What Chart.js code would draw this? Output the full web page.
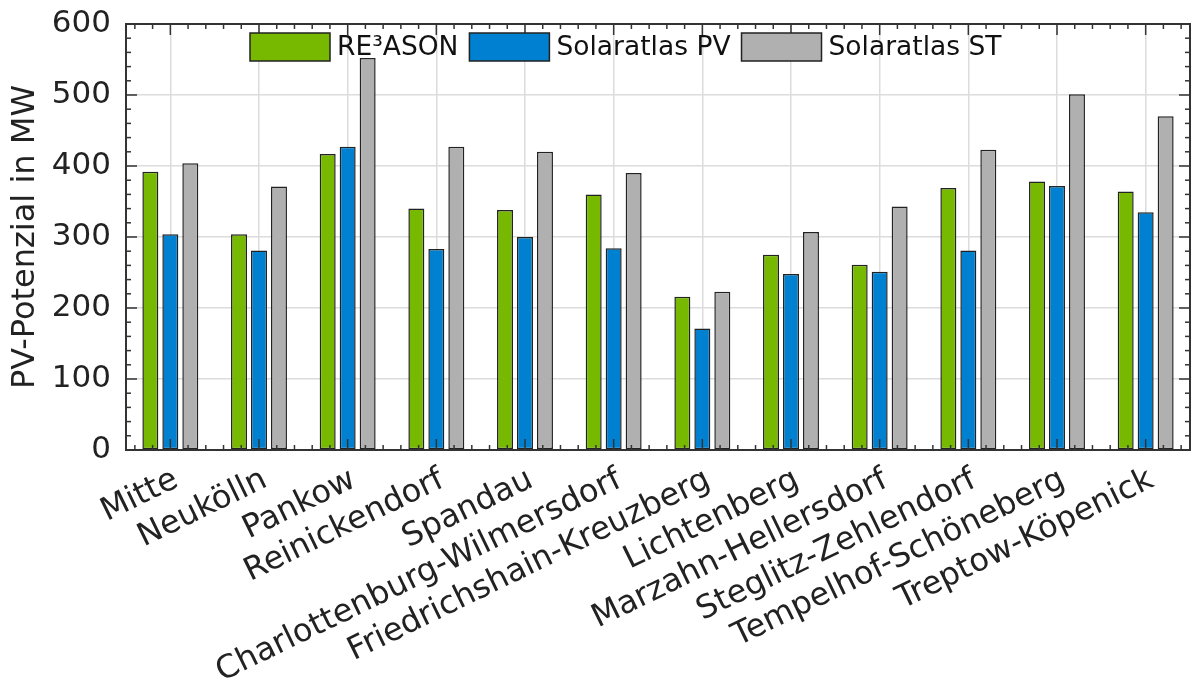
<!DOCTYPE html>
<html>
<head>
<meta charset="utf-8">
<script src="https://cdn.jsdelivr.net/npm/chart.js@4.4.1/dist/chart.umd.min.js"></script>
<style>
  html, body { margin: 0; padding: 0; background: #fff; }
  #wrap { width: 1192px; height: 680px; }
</style>
</head>
<body>
<div id="wrap"><canvas id="chart" width="1192" height="680"></canvas></div>
<script>
// Data
const districts = ['Mitte', 'Neukölln', 'Pankow', 'Reinickendorf', 'Spandau',
    'Charlottenburg-Wilmersdorf', 'Friedrichshain-Kreuzberg', 'Lichtenberg',
    'Marzahn-Hellersdorf', 'Steglitz-Zehlendorf', 'Tempelhof-Schöneberg', 'Treptow-Köpenick'];
const reasonValues = [392, 304, 417, 340, 338, 360, 216, 275, 261, 369, 378, 364];
const solarPvValues = [304, 281, 427, 283, 300, 284, 171, 248, 251, 281, 372, 335];
const solarStValues = [404, 371, 552, 427, 420, 390, 223, 307, 343, 423, 501, 470];
const seriesNames = ['RE³ASON', 'Solaratlas PV', 'Solaratlas ST'];
const yMin = 0, yMax = 600, yStep = 100;

const colors = ['#76b900', '#0080d0', '#b0b0b0'];
const fontFamily = '"DejaVu Sans", sans-serif';
const fontSize = 31;

// inside ticks on all four sides + frame, like the matplotlib style
const frameTicks = {
    id: 'frameTicks',
    afterDatasetsDraw(chart) {
        const { ctx, chartArea: a, scales: { x, y } } = chart;
        ctx.save();
        ctx.strokeStyle = '#333';
        ctx.lineWidth = 1.5;
        const line = (x1, y1, x2, y2) => {
            ctx.beginPath(); ctx.moveTo(x1, y1); ctx.lineTo(x2, y2); ctx.stroke();
        };
        // y ticks
        for (let v = yMin; v <= yMax; v += yStep / 5) {
            const py = y.getPixelForValue(v);
            const len = v % yStep === 0 ? 11 : 5;
            line(a.left, py, a.left + len, py);
            line(a.right, py, a.right - len, py);
        }
        // x ticks
        const x0 = x.getPixelForTick(0);
        const step = (x.getPixelForTick(1) - x0) / 5;
        let start = x0;
        while (start - step >= a.left) start -= step;
        for (let px = start; px <= a.right + 0.5; px += step) {
            const r = Math.round((px - x0) / step);
            const len = r % 5 === 0 ? 11 : 5;
            line(px, a.bottom, px, a.bottom - len);
            line(px, a.top, px, a.top + len);
        }
        ctx.lineWidth = 2;
        ctx.strokeRect(a.left, a.top, a.width, a.height);
        ctx.restore();
    }
};

// legend drawn inside the plot area
const innerLegend = {
    id: 'innerLegend',
    afterDraw(chart) {
        const { ctx, chartArea: a } = chart;
        ctx.save();
        ctx.font = '26.5px ' + fontFamily;
        ctx.textBaseline = 'middle';
        let lx = 250;
        const ly = a.top + 9;
        chart.data.datasets.forEach(ds => {
            ctx.fillStyle = ds.backgroundColor;
            ctx.fillRect(lx, ly, 80, 28);
            ctx.strokeStyle = '#222';
            ctx.lineWidth = 1.5;
            ctx.strokeRect(lx, ly, 80, 28);
            ctx.fillStyle = '#111';
            ctx.fillText(ds.label, lx + 87, ly + 15);
            lx += 87 + ctx.measureText(ds.label).width + 11;
        });
        ctx.restore();
    }
};

const ctx = document.getElementById('chart').getContext('2d');
const chart = new Chart(ctx, {
    type: 'bar',
    data: {
        labels: districts,
        datasets: [reasonValues, solarPvValues, solarStValues].map((vals, i) => ({
            label: seriesNames[i],
            data: vals,
            backgroundColor: colors[i],
            borderColor: '#222',
            borderWidth: 1.5,
            borderSkipped: false,
            categoryPercentage: 0.676,
            barPercentage: 0.8
        }))
    },
    options: {
        responsive: false,
        animation: false,
        layout: { padding: { top: 24, right: 2, left: 0, bottom: 0 } },
        plugins: {
            legend: { display: false },
            tooltip: { enabled: false }
        },
        scales: {
            x: {
                grid: { offset: false, color: '#dcdcdc', lineWidth: 1.5, drawTicks: false },
                border: { display: false },
                ticks: {
                    font: { family: fontFamily, size: 32 },
                    color: '#222',
                    minRotation: 26,
                    maxRotation: 26,
                    padding: 11,
                    labelOffset: 6,
                    autoSkip: false
                },
                afterFit(scale) { scale.height = 230; }
            },
            y: {
                min: yMin,
                max: yMax,
                grid: { color: '#dcdcdc', lineWidth: 1.5, drawTicks: false },
                border: { display: false },
                ticks: {
                    stepSize: yStep,
                    font: { family: fontFamily, size: fontSize },
                    color: '#222',
                    padding: 15
                },
                title: {
                    display: true,
                    text: 'PV-Potenzial in MW',
                    font: { family: fontFamily, size: 32 },
                    color: '#222',
                    padding: { top: 6, bottom: 4 }
                },
                afterFit(scale) {
                    scale.width = 126;
                    scale.paddingTop = 0;
                    scale.paddingBottom = 0;
                }
            }
        }
    },
    plugins: [frameTicks, innerLegend]
});
</script>
</body>
</html>
